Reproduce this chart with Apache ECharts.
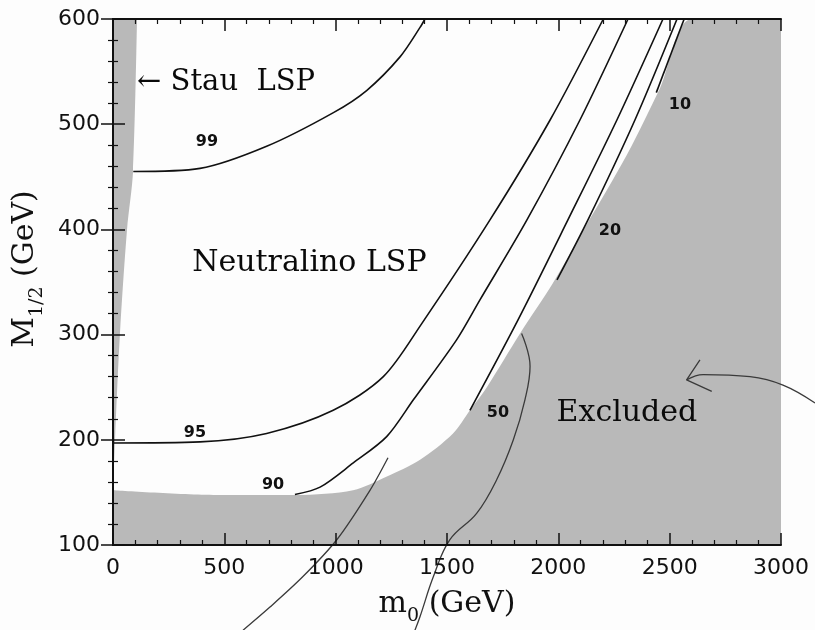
<!DOCTYPE html>
<html lang="en">

<head>
    <meta charset="UTF-8">
    <title>Neutralino LSP</title>
    <script src="https://cdn.jsdelivr.net/npm/echarts@6/dist/echarts.min.js"></script>
    <style>
        * {
            margin: 0;
            padding: 0
        }

        html,
        body {
            width: 815px;
            height: 630px;
            background: #fdfdfd;
        }
    </style>
</head>

<body>
    <div id="main" style="width:815px;height:630px"></div>

    <script>
        // axis ticks
        var xTicks = [0, 500, 1000, 1500, 2000, 2500, 3000];
        var yTicks = [100, 200, 300, 400, 500, 600];

        // shaded regions (m0, M1/2)
        var stauEdge = [[0, 150], [9, 200], [31, 300], [63, 400], [90, 455], [108, 600]];
        var excludedEdge = [[0, 152], [480, 147.5], [826, 147.5], [1078, 152], [1230, 165], [1379, 181],
            [1527, 206], [1603, 228], [1679, 250], [1828, 301], [1976, 349], [2120, 402], [2308, 471],
            [2456, 534], [2600, 600], [3000, 600]];

        // contours
        var c99 = [[91, 455], [391, 458], [690, 479], [990, 511], [1139, 532], [1289, 564], [1379, 592], [1401, 600]];
        var c95 = [[0, 197], [391, 198], [690, 206], [989, 228], [1214, 260], [1385, 310], [1693, 409], [1963, 504], [2202, 600]];
        var c90 = [[817, 148], [930, 155], [1079, 178], [1229, 203], [1349, 238], [1543, 295], [1648, 333], [1859, 409], [2097, 504], [2313, 600]];
        var c50 = [[1603, 228], [1819, 314], [2043, 409], [2263, 504], [2470, 600]];
        var c20 = [[1994, 352], [2133, 409], [2344, 504], [2533, 600]];
        var c10 = [[2440, 530], [2565, 600]];

        // pen marks on the scan
        var pen1 = [[1235, 183], [1154, 152], [1005, 105], [853, 70], [705, 41], [584, 19]];
        var pen2 = [[1835, 301], [1873, 270], [1850, 238], [1798, 200], [1723, 162], [1633, 130], [1513, 105], [1439, 70], [1379, 32], [1356, 19]];
        var arrowShaft = [[2576, 257], [2650, 262], [2861, 260], [3009, 252], [3153, 235]];
        var arrowHead = [[2636, 276], [2576, 257], [2689, 246]];

        // labels
        var contourLabels = ['99', '95', '90', '50', '20', '10'];
        var contourLabelPos = [[422, 483], [368, 207], [719, 157], [1729, 226], [2232, 399], [2546, 518]];
        var regionLabels = ['Neutralino LSP', 'Excluded'];
        var regionLabelPos = [[882, 368], [2308, 225]];
        var stauLabelPos = [108, 540];

        var grey = '#b9b9b9';
        var serif = 'DejaVu Serif';
        var sans = 'DejaVu Sans';

        // the pen arrow runs past the frame, so it gets a second, wider grid
        // with the same scale (3000 GeV over 668 px, 702 px to the page edge)
        var penXMax = 3000 * 702 / 668;

        function contour(data) {
            return {
                type: 'line', data: data, smooth: 0.3, symbol: 'none', clip: false, z: 4,
                lineStyle: { color: '#111', width: 1.6 }
            };
        }

        function pen(data, smooth, gridIdx) {
            return {
                type: 'line', data: data, smooth: smooth, symbol: 'none', clip: false, z: 6,
                xAxisIndex: gridIdx ? 2 : 0, yAxisIndex: gridIdx ? 2 : 0,
                lineStyle: { color: '#3a3a3a', width: 1.3 }
            };
        }

        var axisCommon = {
            type: 'value',
            axisLine: { show: true, lineStyle: { color: '#111', width: 2 } },
            axisTick: { show: true, inside: true, length: 12, lineStyle: { color: '#111', width: 1.5 } },
            minorTick: { show: true, splitNumber: 5, length: 5, lineStyle: { color: '#111', width: 1.2 } },
            splitLine: { show: false },
            z: 10
        };

        var hiddenAxis = {
            type: 'value', gridIndex: 1, show: false,
            axisLine: { show: false }, axisTick: { show: false }, axisLabel: { show: false }, splitLine: { show: false }
        };

        var labelFont = {
            fontFamily: sans, fontSize: 22, color: '#111',
            formatter: function (v) { return String(v); }
        };

        var nameRich = {
            m: { fontFamily: serif, fontSize: 30, color: '#111', verticalAlign: 'bottom', padding: [0, 0, 7, 0] },
            a: { fontFamily: serif, fontSize: 30, color: '#111', verticalAlign: 'bottom', padding: [0, 0, 7, 0] },
            b: { fontFamily: serif, fontSize: 19, color: '#111', verticalAlign: 'bottom' }
        };

        var option = {
            backgroundColor: '#fdfdfd',
            animation: false,
            grid: [
                { left: 113, right: 34, top: 19, bottom: 85, outerBoundsMode: 'none' },
                { left: 113, right: 0, top: 19, bottom: 85, outerBoundsMode: 'none' }
            ],
            xAxis: [
                Object.assign({}, axisCommon, {
                    min: xTicks[0], max: xTicks[xTicks.length - 1], interval: 500, position: 'bottom',
                    axisLabel: Object.assign({ margin: 12 }, labelFont),
                    name: '{a|m}{b|0}{a| (GeV)}',
                    nameLocation: 'middle', nameGap: 44, nameMoveOverlap: false,
                    nameTextStyle: { rich: nameRich }
                }),
                Object.assign({}, axisCommon, {
                    min: xTicks[0], max: xTicks[xTicks.length - 1], interval: 500, position: 'top',
                    axisLabel: { show: false }
                }),
                Object.assign({}, hiddenAxis, { min: 0, max: penXMax })
            ],
            yAxis: [
                Object.assign({}, axisCommon, {
                    min: yTicks[0], max: yTicks[yTicks.length - 1], interval: 100, position: 'left',
                    axisLabel: Object.assign({ margin: 13 }, labelFont),
                    name: '{m|M}{b|1/2}{a| (GeV)}',
                    nameLocation: 'middle', nameRotate: 90, nameGap: 66, nameMoveOverlap: false,
                    nameTextStyle: {
                        rich: Object.assign({}, nameRich, {
                            m: Object.assign({}, nameRich.m, { padding: [0, 0, 7, 26] })
                        })
                    }
                }),
                Object.assign({}, axisCommon, {
                    min: yTicks[0], max: yTicks[yTicks.length - 1], interval: 100, position: 'right',
                    axisLabel: { show: false }
                }),
                Object.assign({}, hiddenAxis, { min: yTicks[0], max: yTicks[yTicks.length - 1] })
            ],
            series: [
                {
                    type: 'line', data: excludedEdge, symbol: 'none', smooth: 0.3, z: 1,
                    lineStyle: { width: 0, color: grey },
                    areaStyle: { color: grey, opacity: 1, origin: 'start' }
                },
                {
                    type: 'line', data: stauEdge, symbol: 'none', smooth: 0.3, z: 1,
                    lineStyle: { width: 0, color: grey },
                    areaStyle: { color: grey, opacity: 1, origin: 'end' }
                },
                contour(c99), contour(c95), contour(c90), contour(c50), contour(c20), contour(c10),
                pen(pen1, 0.3), pen(pen2, 0.4), pen(arrowShaft, 0.4, 1), pen(arrowHead, false, 1),
                {
                    type: 'scatter', symbolSize: 0, z: 8,
                    itemStyle: { opacity: 1 },
                    data: contourLabels.map(function (t, i) {
                        return { value: contourLabelPos[i], name: t };
                    }),
                    label: {
                        show: true, position: 'inside', formatter: '{b}', opacity: 1,
                        fontFamily: sans, fontSize: 16, fontWeight: 'bold', color: '#111'
                    }
                },
                {
                    type: 'scatter', symbolSize: 0, z: 8,
                    itemStyle: { opacity: 1 },
                    data: regionLabels.map(function (t, i) {
                        return { value: regionLabelPos[i], name: t };
                    }).concat([{
                        value: stauLabelPos, name: '\u2190 Stau  LSP',
                        label: { position: 'right', distance: 0, fontSize: 29 }
                    }]),
                    label: {
                        show: true, position: 'inside', formatter: '{b}', opacity: 1,
                        fontFamily: serif, fontSize: 30, color: '#0a0a0a'
                    }
                }
            ]
        };

        echarts.init(document.getElementById('main')).setOption(option);
    </script>
</body>

</html>
